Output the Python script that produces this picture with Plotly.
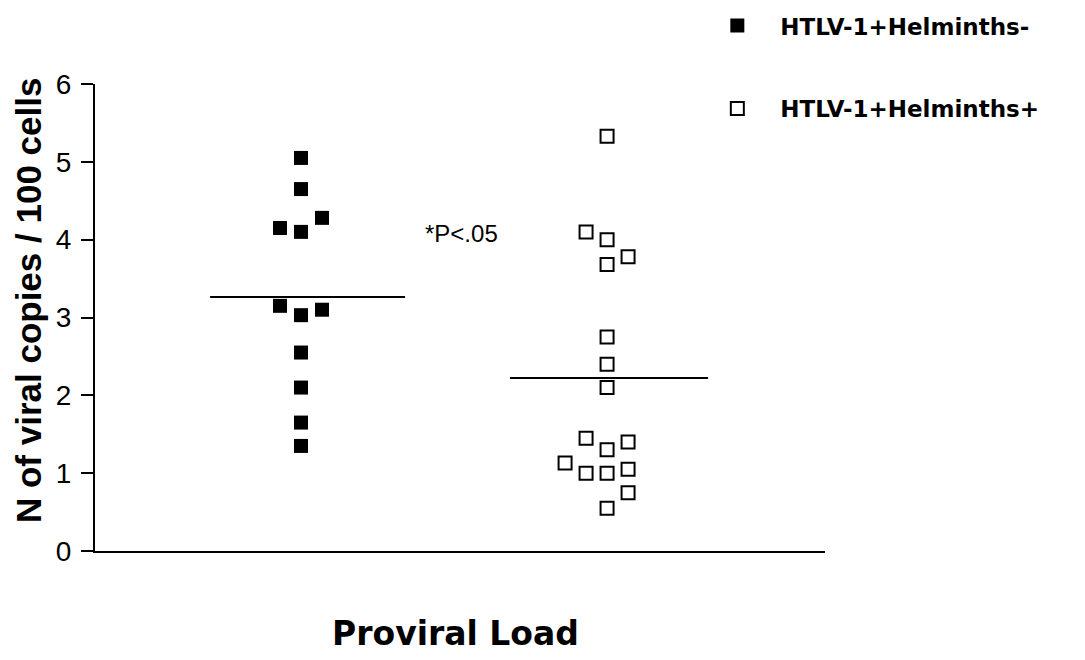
import plotly.graph_objects as go

# Data
groups = ["HTLV-1+Helminths-", "HTLV-1+Helminths+"]
group_pos = [1, 2]
neg_values = [5.05, 4.65, 4.15, 4.10, 4.28, 3.15, 3.03, 3.10, 2.55, 2.10, 1.65, 1.35]
neg_cols = [0, 0, -1, 0, 1, -1, 0, 1, 0, 0, 0, 0]
pos_values = [5.33, 4.10, 4.00, 3.78, 3.68, 2.75, 2.40, 2.10, 1.45, 1.30, 1.40,
              1.13, 1.00, 1.00, 1.05, 0.75, 0.55]
pos_cols = [0, -1, 0, 1, 0, 0, 0, 0, -1, 0, 1, -2, -1, 0, 1, 1, 0]
y_ticks = [0, 1, 2, 3, 4, 5, 6]

JIT = 0.0686
LINE_EXT = [(-0.297, 0.34), (-0.317, 0.33)]
FONT = "Liberation Sans, Arial, Helvetica, sans-serif"
WIDE = "DejaVu Sans, Liberation Sans, sans-serif"

fig = go.Figure()

series = [
    (neg_values, neg_cols, dict(symbol="square", size=14, color="black",
                                line=dict(width=0))),
    (pos_values, pos_cols, dict(symbol="square-open", size=13, color="black",
                                line=dict(width=2, color="black"))),
]
for i, (vals, cols, mk) in enumerate(series):
    xs = [group_pos[i] + c * JIT for c in cols]
    fig.add_trace(go.Scatter(x=xs, y=vals, mode="markers", marker=mk,
                             name=groups[i], legendgroup=groups[i], showlegend=True))
    m = sum(vals) / len(vals)
    lo, hi = LINE_EXT[i]
    fig.add_trace(go.Scatter(x=[group_pos[i] + lo, group_pos[i] + hi], y=[m, m],
                             mode="lines", line=dict(color="black", width=2),
                             showlegend=False, hoverinfo="skip"))

fig.add_annotation(x=1.523, y=4.08, xref="x", yref="y", text="*P<.05",
                   showarrow=False, font=dict(family=FONT, size=24, color="black"))

fig.add_annotation(x=-0.092, y=0.537, xref="paper", yref="paper",
                   text="<b>N of viral copies / 100 cells</b>", textangle=-90,
                   showarrow=False, xanchor="center", yanchor="middle",
                   font=dict(family=FONT, size=35, color="black"))
fig.add_annotation(x=0.494, y=-0.176, xref="paper", yref="paper",
                   text="<b>Proviral Load</b>", showarrow=False,
                   xanchor="center", yanchor="middle",
                   font=dict(family=WIDE, size=33, color="black"))

fig.update_layout(
    width=1085, height=660,
    margin=dict(l=95, r=260, t=84, b=109, autoexpand=False),
    paper_bgcolor="white", plot_bgcolor="white",
    legend=dict(x=0.821, y=1.171, xanchor="left", yanchor="top",
                font=dict(family=WIDE, size=23, color="black", weight="bold"),
                itemwidth=76, tracegroupgap=50, bgcolor="rgba(0,0,0,0)",
                traceorder="grouped"),
    xaxis=dict(range=[0.327, 2.712], showgrid=False, zeroline=False,
               showline=True, linecolor="black", linewidth=2,
               showticklabels=False, ticks=""),
    yaxis=dict(range=[0, 6], tickvals=y_ticks, showgrid=False, zeroline=False,
               showline=True, linecolor="black", linewidth=2,
               ticks="outside", ticklen=12, tickwidth=1.5, tickcolor="black",
               ticklabelstandoff=4,
               tickfont=dict(family=FONT, size=28, color="black")),
)

fig.write_html("out.html")
